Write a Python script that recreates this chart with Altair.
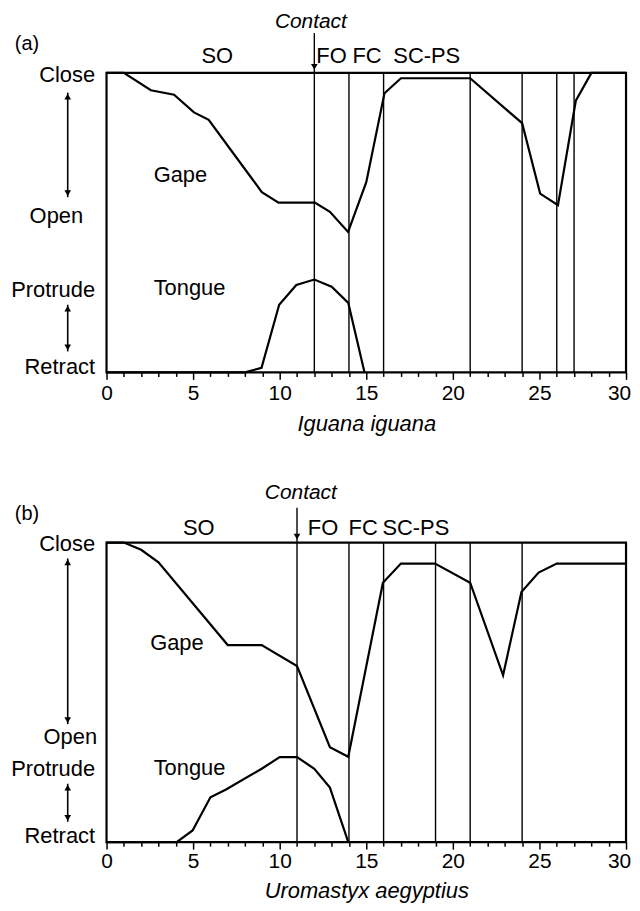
import altair as alt
import pandas as pd

FONT = "Liberation Sans"

# ---------------- Panel (a): Iguana iguana ----------------
a_gape_x = [0, 1.0, 2.56, 3.9, 5.05, 5.9, 7.34, 8.97, 9.93, 12.03, 12.9, 13.95, 15.0, 16.05, 17.0, 21.0, 24.0, 25.04, 26.07, 27.1, 28.0, 30]
a_gape_y = [100, 100, 94.2, 92.7, 86.8, 84.3, 73.0, 60.2, 56.7, 56.7, 53.6, 46.9, 63.5, 93.2, 98.2, 98.2, 83.2, 59.7, 55.8, 90.7, 100, 100]
a_tongue_x = [0, 8.0, 8.95, 9.97, 10.96, 12.0, 13.0, 13.96, 14.9]
a_tongue_y = [0, 0, 1.5, 22.6, 29.2, 31.0, 28.6, 23.2, 0]
a_lines = [12, 14, 16, 21, 24, 26, 27]
a_phase_text = ["SO", "FO", "FC", "SC-PS"]
a_phase_x = [6.39, 12.99, 15.04, 18.49]
a_contact_x = 12
a_contact_label_x = 11.8
a_ylabels = ["Close", "Open", "Protrude", "Retract"]
a_ylabel_pos = [99.3, 52.5, 27.6, 2.0]
a_arrows = [(93.4, 58.5), (22.6, 7.0)]
a_curve_labels = ["Gape", "Tongue"]
a_curve_label_x = [2.72, 2.72]
a_curve_label_y = [65.8, 28.1]

# ---------------- Panel (b): Uromastyx aegyptius ----------------
b_gape_x = [0, 1.0, 2.0, 3.0, 7.0, 8.96, 11.0, 12.9, 13.96, 15.96, 17.0, 18.97, 21.0, 22.9, 23.96, 24.95, 26.0, 30]
b_gape_y = [100, 100, 97.6, 93.4, 65.8, 65.8, 58.8, 31.7, 28.5, 86.6, 93.0, 93.0, 86.6, 55.7, 83.5, 90.0, 93.0, 93.0]
b_tongue_x = [0, 4.05, 4.97, 6.0, 6.9, 8.96, 10.0, 11.0, 12.0, 12.9, 13.96]
b_tongue_y = [0, 0, 3.9, 15.0, 17.6, 24.5, 28.4, 28.4, 24.5, 18.2, 0]
b_lines = [11, 14, 16, 19, 21, 24]
b_phase_text = ["SO", "FO", "FC", "SC-PS"]
b_phase_x = [5.33, 12.5, 14.82, 17.86]
b_contact_x = 11
b_contact_label_x = 11.22
b_ylabels = ["Close", "Open", "Protrude", "Retract"]
b_ylabel_pos = [99.7, 35.1, 24.5, 2.3]
b_arrows = [(94.7, 39.4), (19.5, 6.8)]
b_curve_labels = ["Gape", "Tongue"]
b_curve_label_x = [2.52, 2.72]
b_curve_label_y = [66.5, 24.7]

x_ticks = list(range(0, 31))


def ylabel_expr(labels, pos):
    parts = []
    for lab, p in zip(labels, pos):
        parts.append(f"abs(datum.value - {p}) < 0.01 ? '{lab}'")
    return " : ".join(parts) + " : ''"


def panel(letter, title, gx, gy, tx, ty, lines, phase_text, phase_x,
          contact_x, contact_label_x, ylabels, ylabel_pos, arrows,
          clabels, clx, cly, open_pad, top_lab_dy, contact_dy, arrow_top,
          label_pad, title_pad):
    xscale = alt.Scale(domain=[0, 30], nice=False, zero=False)
    yscale = alt.Scale(domain=[0, 100], nice=False, zero=False)

    xaxis = alt.Axis(
        values=x_ticks,
        labelExpr="datum.value % 5 == 0 ? datum.label : ''",
        tickSize={"condition": {"test": "datum.value % 5 == 0", "value": 7}, "value": 4},
        tickColor="black", tickWidth=1.5, domain=False, grid=False,
        labelFontSize=21, labelColor="black", labelPadding=label_pad,
        labelOffset={"condition": {"test": "datum.value == 30", "value": -7}, "value": 0},
        labelOverlap=False, labelFlush=False,
        title=title, titleFontSize=22, titleFontStyle="italic",
        titleFontWeight="normal", titleColor="black", titlePadding=title_pad,
    )
    yaxis = alt.Axis(
        values=ylabel_pos,
        labelExpr=ylabel_expr(ylabels, ylabel_pos),
        ticks=False, domain=False, grid=False, title=None,
        labelFontSize=22, labelColor="black", labelBaseline="middle",
        labelPadding={"condition": {"test": f"abs(datum.value - {ylabel_pos[1]}) < 0.01",
                                    "value": open_pad}, "value": 12},
        labelFlush=False, labelOverlap=False,
    )

    def X(field="x:Q"):
        return alt.X(field, scale=xscale, axis=xaxis)

    def Y(field="y:Q"):
        return alt.Y(field, scale=yscale, axis=yaxis)

    gape_df = pd.DataFrame({"x": gx, "y": gy})
    tongue_df = pd.DataFrame({"x": tx, "y": ty})

    gape = alt.Chart(gape_df).mark_line(color="black", strokeWidth=2.2).encode(
        x=X(), y=Y())
    tongue = alt.Chart(tongue_df).mark_line(color="black", strokeWidth=2.2).encode(
        x=X(), y=Y())

    rules = alt.Chart(pd.DataFrame({"x": lines})).mark_rule(
        color="black", strokeWidth=1.4).encode(x=X())

    clab = alt.Chart(pd.DataFrame({"t": clabels, "x": clx, "y": cly})).mark_text(
        align="left", baseline="middle", fontSize=22, color="black").encode(
        x=X(), y=Y(), text="t:N")

    phases = alt.Chart(pd.DataFrame({"t": phase_text, "x": phase_x})).mark_text(
        align="center", baseline="middle", fontSize=22, color="black").encode(
        x=X(), y=alt.value(top_lab_dy), text="t:N")

    contact_txt = alt.Chart(pd.DataFrame({"t": ["Contact"], "x": [contact_label_x]})).mark_text(
        align="center", baseline="middle", fontSize=21, fontStyle="italic", color="black").encode(
        x=X(), y=alt.value(contact_dy), text="t:N")
    cdf = pd.DataFrame({"x": [contact_x]})
    contact_rule = alt.Chart(cdf).mark_rule(color="black", strokeWidth=1.4).encode(
        x=X(), y=alt.value(arrow_top), y2=alt.value(0))
    contact_head = alt.Chart(cdf).mark_point(
        shape="triangle-down", filled=True, color="black", size=45, opacity=1).encode(
        x=X(), y=alt.value(-6))

    letter_txt = alt.Chart(pd.DataFrame({"t": [letter]})).mark_text(
        align="center", baseline="middle", fontSize=20, color="black").encode(
        x=alt.value(-80), y=alt.value(-29), text="t:N")

    arr_df = pd.DataFrame({"top": [a[0] for a in arrows], "bot": [a[1] for a in arrows]})
    arr_rule = alt.Chart(arr_df).mark_rule(color="black", strokeWidth=1.6).encode(
        x=alt.value(-39), y=Y("top:Q"), y2="bot:Q")
    arr_up = alt.Chart(arr_df).mark_point(
        shape="triangle-up", filled=True, color="black", size=45, opacity=1).encode(
        x=alt.value(-39), y=Y("top:Q"), yOffset=alt.value(4))
    arr_dn = alt.Chart(arr_df).mark_point(
        shape="triangle-down", filled=True, color="black", size=45, opacity=1).encode(
        x=alt.value(-39), y=Y("bot:Q"), yOffset=alt.value(-4))

    return alt.layer(
        gape, rules, tongue, clab, phases, contact_txt, contact_rule, contact_head,
        letter_txt, arr_rule, arr_up, arr_dn,
    ).properties(width=522, height=301)


pa = panel("(a)", "Iguana iguana", a_gape_x, a_gape_y, a_tongue_x, a_tongue_y, a_lines,
           a_phase_text, a_phase_x, a_contact_x, a_contact_label_x, a_ylabels, a_ylabel_pos,
           a_arrows, a_curve_labels, a_curve_label_x, a_curve_label_y,
           open_pad=24, top_lab_dy=-17, contact_dy=-51, arrow_top=-40,
           label_pad=3, title_pad=10)
pb = panel("(b)", "Uromastyx aegyptius", b_gape_x, b_gape_y, b_tongue_x, b_tongue_y, b_lines,
           b_phase_text, b_phase_x, b_contact_x, b_contact_label_x, b_ylabels, b_ylabel_pos,
           b_arrows, b_curve_labels, b_curve_label_x, b_curve_label_y,
           open_pad=10, top_lab_dy=-15, contact_dy=-50, arrow_top=-35,
           label_pad=1, title_pad=10)

chart = alt.vconcat(pa, pb, spacing=171, bounds="flush").properties(
    padding={"left": 1, "top": -1, "right": 0, "bottom": 0},
    background="white",
).configure(font=FONT).configure_view(stroke="black", strokeWidth=2.2)

chart.save("out.html", embed_options={"renderer": "svg", "actions": False})
